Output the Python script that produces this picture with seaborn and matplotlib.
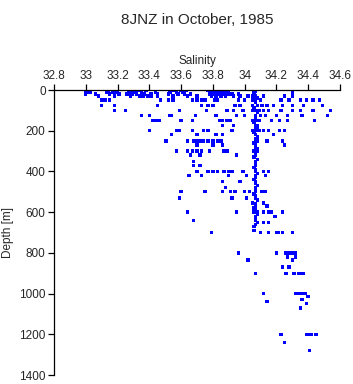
import pandas as pd
import seaborn as sns
import matplotlib
matplotlib.use("Agg")
from matplotlib import pyplot as plt

# salinity readings grouped by sampling depth (m)
surface = [
    (0, [33.0, 33.02, 33.14, 33.17, 33.2, 33.27, 33.3, 33.33, 33.38, 33.44, 33.54, 33.56,
         33.6, 33.63, 33.77, 33.79, 33.81, 33.83, 33.85, 33.87, 33.89, 34.3]),
    (10, [33.01, 33.03, 33.13, 33.17, 33.19, 33.28, 33.31, 33.35, 33.44, 33.53, 33.57, 33.61,
          33.78, 33.8, 33.82, 33.84, 33.86, 33.88, 33.9, 34.3]),
    (20, [33.0, 33.06, 33.15, 33.18, 33.21, 33.26, 33.29, 33.32, 33.37, 33.41, 33.45, 33.52,
          33.58, 33.62, 33.66, 33.78, 33.81, 33.84, 33.87, 33.9, 33.92, 33.96, 34.3]),
    (30, [33.08, 33.18, 33.28, 33.34, 33.36, 33.39, 33.41, 33.45, 33.55, 33.64, 33.7, 33.79,
          33.82, 33.85, 33.88, 33.93, 33.97, 34.02, 34.05, 34.07, 34.12, 34.25, 34.3]),
    (50, [33.1, 33.12, 33.15, 33.47, 33.52, 33.55, 33.67, 33.7, 33.73, 33.75, 33.81, 33.83,
          33.96, 34.0, 34.05, 34.07, 34.1, 34.23, 34.28, 34.35, 34.39, 34.43, 34.47]),
    (75, [33.1, 33.18, 33.45, 33.73, 33.77, 33.8, 33.94, 33.97, 34.05, 34.08, 34.11, 34.14,
          34.18, 34.24, 34.3, 34.37, 34.49]),
    (100, [33.18, 33.25, 33.59, 33.76, 33.89, 33.93, 33.99, 34.05, 34.07, 34.09, 34.12, 34.15,
           34.23, 34.3, 34.35, 34.43, 34.54]),
    (125, [33.35, 33.4, 33.53, 33.54, 33.69, 33.82, 33.95, 34.0, 34.07, 34.1, 34.13, 34.2,
           34.27, 34.36, 34.52]),
    (150, [33.42, 33.44, 33.46, 33.6, 33.67, 33.84, 33.86, 33.89, 33.91, 34.05, 34.07, 34.09,
           34.17, 34.22, 34.27, 34.44]),
]

intermediate = [
    (175, [33.86, 33.93, 34.07, 34.08]),
    (200, [33.4, 33.57, 33.59, 33.67, 33.74, 33.77, 33.92, 34.05, 34.07, 34.09, 34.12, 34.15,
           34.22, 34.25]),
    (220, [33.54, 33.7, 33.82, 33.86, 34.07, 34.18]),
    (250, [33.5, 33.51, 33.64, 33.68, 33.7, 33.72, 33.74, 33.77, 33.8, 33.83, 33.85, 34.07,
           34.08, 34.14, 34.24]),
    (270, [33.7, 33.8, 33.86, 34.07, 34.25]),
    (300, [33.57, 33.64, 33.67, 33.7, 33.73, 33.78, 33.87, 33.89, 34.06, 34.08]),
    (320, [33.66, 33.72, 33.95, 34.07]),
    (350, [33.68, 34.07]),
    (370, [33.68, 33.72, 34.07]),
    (400, [33.7, 33.77, 33.8, 33.83, 33.87, 33.9, 33.92, 33.99, 34.07, 34.12, 34.15]),
    (420, [33.65, 33.73, 33.9, 34.01, 34.07, 34.13]),
    (450, [33.86, 33.97, 34.07]),
    (480, [33.88, 34.07]),
    (500, [33.6, 33.75, 33.86, 33.91, 33.94, 34.0, 34.03, 34.07, 34.11, 34.13]),
    (530, [33.59, 33.92, 34.01, 34.07]),
    (555, [34.05, 34.12]),
    (570, [34.07, 34.14]),
    (600, [33.64, 33.95, 34.06, 34.08, 34.12, 34.15, 34.17, 34.24]),
    (620, [34.07, 34.19]),
    (640, [33.68, 34.07]),
    (650, [34.08, 34.12, 34.15]),
    (690, [34.06]),
]

# the near-constant 34.07 core between 0 and 700 m
core_depths = [5, 15, 40, 60, 85, 110, 135, 160, 185, 190, 210, 230, 240, 260, 280, 290,
               310, 330, 340, 360, 380, 390, 410, 430, 440, 460, 470, 490, 510, 520, 540,
               560, 580, 590, 610, 630, 660, 670]
core_sal = [34.07, 34.06, 34.08, 34.07, 34.06, 34.08, 34.07, 34.06, 34.08, 34.07, 34.06,
            34.08, 34.07, 34.06, 34.07, 34.08, 34.07, 34.06, 34.08, 34.07, 34.06, 34.07,
            34.08, 34.07, 34.06, 34.07, 34.08, 34.07, 34.06, 34.07, 34.08, 34.07, 34.06,
            34.07, 34.08, 34.07, 34.07, 34.06]

deep = [
    (700, [33.79, 34.1, 34.15, 34.2, 34.21, 34.24, 34.3]),
    (800, [33.96, 34.2, 34.26, 34.27, 34.28, 34.3, 34.32]),
    (820, [34.27, 34.32]),
    (835, [34.02, 34.3]),
    (870, [34.24, 34.28]),
    (900, [34.07, 34.26, 34.31, 34.34, 34.35, 34.37]),
    (1000, [34.12, 34.32, 34.34, 34.36, 34.38]),
    (1015, [34.4]),
    (1030, [34.36]),
    (1040, [34.14]),
    (1050, [34.39]),
    (1070, [34.35]),
    (1200, [34.23, 34.39, 34.41, 34.42, 34.45]),
    (1240, [34.25]),
    (1280, [34.41]),
]

sal_ticks = [32.8, 33.0, 33.2, 33.4, 33.6, 33.8, 34.0, 34.2, 34.4, 34.6]
sal_labels = ["32.8", "33", "33.2", "33.4", "33.6", "33.8", "34", "34.2", "34.4", "34.6"]
depth_ticks = [0, 200, 400, 600, 800, 1000, 1200, 1400]

rows = []
for d, ss in surface + intermediate + deep:
    for s in ss:
        rows.append((s, d))
rows += list(zip(core_sal, core_depths))
df = pd.DataFrame(rows, columns=["salinity", "depth"])

sns.set_style("ticks")
plt.rcParams["font.family"] = ["Liberation Sans", "DejaVu Sans"]

fig = plt.figure(figsize=(3.53, 3.84), dpi=100)
ax = fig.add_axes([0.153, 0.0234, 0.81, 0.7422])
sns.scatterplot(data=df, x="salinity", y="depth", marker="s", s=6, color="#0000ff",
                edgecolor="none", linewidth=0, ax=ax)

ax.set_xlim(32.8, 34.6)
ax.set_ylim(1400, 0)
ax.xaxis.tick_top()
ax.xaxis.set_label_position("top")
ax.set_xticks(sal_ticks)
ax.set_xticklabels(sal_labels)
ax.set_yticks(depth_ticks)
ax.tick_params(axis="both", labelsize=8.5, length=4, width=0.9, color="black", pad=2)
ax.spines["right"].set_visible(False)
ax.spines["bottom"].set_visible(False)
for sp in ["top", "left"]:
    ax.spines[sp].set_linewidth(0.9)
    ax.spines[sp].set_color("black")
ax.set_xlabel("Salinity", fontsize=8.5, labelpad=4)
ax.set_ylabel("Depth [m]", fontsize=8.5, labelpad=4)
fig.text(0.558, 0.948, "8JNZ in October, 1985", ha="center", va="center", fontsize=11)

fig.savefig("out.png", dpi=100)
